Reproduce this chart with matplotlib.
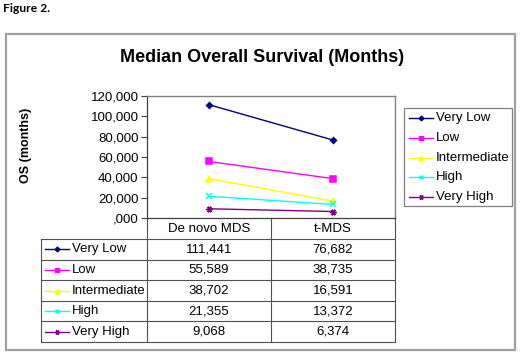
import matplotlib
matplotlib.use("Agg")
import matplotlib.pyplot as plt
from matplotlib.lines import Line2D
from matplotlib.patches import Rectangle

plt.rcParams['font.family'] = ['Liberation Sans', 'DejaVu Sans']

categories = ["De novo MDS", "t-MDS"]
series_names = ["Very Low", "Low", "Intermediate", "High", "Very High"]
very_low = [111.441, 76.682]
low = [55.589, 38.735]
intermediate = [38.702, 16.591]
high = [21.355, 13.372]
very_high = [9.068, 6.374]
series_values = [very_low, low, intermediate, high, very_high]
y_ticks = [0, 20, 40, 60, 80, 100, 120]

colors = ["#000080", "#FF00FF", "#FFFF00", "#00FFFF", "#800080"]
markers = ["D", "s", "^", "x", (6, 2, 90)]
msizes = [3.0, 3.8, 4.2, 4.2, 4.5]

def fmt(v):
    s = f"{v:.3f}".replace(".", ",")
    if s.startswith("0,"):
        s = s[1:]
    return s

W, H = 520, 356
fig = plt.figure(figsize=(W / 100, H / 100), dpi=100)

bg = fig.add_axes([0, 0, 1, 1])
bg.set_xlim(0, W)
bg.set_ylim(H, 0)
bg.axis("off")

def px_axes(l, t, r, b):
    return [l / W, (H - b) / H, (r - l) / W, (b - t) / H]

PL, PT, PR, PB = 147, 96, 395, 218
ax = fig.add_axes(px_axes(PL, PT, PR, PB))
ax.set_zorder(2)
ax.patch.set_alpha(0)

xs = [0.5, 1.5]
for name, vals, c, m, ms in zip(series_names, series_values, colors, markers, msizes):
    ax.plot(xs, vals, color=c, marker=m, markersize=ms, lw=1.0,
            markeredgewidth=1.1, label=name, clip_on=False)

ax.set_xlim(0, 2)
ax.set_ylim(0, 120)
ax.set_yticks(y_ticks)
ax.set_yticklabels([fmt(v) for v in y_ticks], fontsize=9.5)
ax.set_xticks([])
ax.tick_params(axis="y", length=4, width=0.8, color="#404040", pad=2)
for s in ["top", "right"]:
    ax.spines[s].set_color("#808080")
    ax.spines[s].set_linewidth(1.0)
ax.spines["left"].set_color("#404040")
ax.spines["bottom"].set_color("#404040")
ax.spines["left"].set_linewidth(0.9)
ax.spines["bottom"].set_linewidth(0.9)

# Outer chart border
bg.add_patch(Rectangle((6, 34), 509, 316, fill=False, edgecolor="#a0a0a0", lw=1.6))

# Figure label
bg.text(3, 9, "Figure 2.", fontsize=8.7, fontweight="bold", family=["Lato", "DejaVu Sans"],
        ha="left", va="center")

# Title
bg.text(262, 58, "Median Overall Survival (Months)", fontsize=13, fontweight="bold",
        ha="center", va="center")

# Y label
bg.text(26, 145, "OS (months)", fontsize=9, fontweight="bold", rotation=90,
        ha="center", va="center")

# Data table
TL = 41
row_edges = [239, 259.6, 280.2, 300.8, 321.4, 342]
col_x = [PL, (PL + PR) / 2, PR]
lc = "#505050"
lw = 0.8
for x in col_x:
    bg.plot([x, x], [PB, row_edges[-1]], color=lc, lw=lw)
bg.plot([TL, TL], [row_edges[0], row_edges[-1]], color=lc, lw=lw)
for y in row_edges:
    bg.plot([TL, PR], [y, y], color=lc, lw=lw)

centers = [(col_x[0] + col_x[1]) / 2, (col_x[1] + col_x[2]) / 2]
for cx, cat in zip(centers, categories):
    bg.text(cx, (PB + row_edges[0]) / 2, cat, fontsize=9.5, ha="center", va="center")

for i, (name, vals, c, m, ms) in enumerate(zip(series_names, series_values, colors, markers, msizes)):
    yc = (row_edges[i] + row_edges[i + 1]) / 2
    bg.add_line(Line2D([45, 69], [yc, yc], color=c, lw=1.0))
    bg.add_line(Line2D([57], [yc], color=c, marker=m, markersize=ms * 0.8, markeredgewidth=1.0))
    bg.text(72, yc, name, fontsize=9.5, ha="left", va="center")
    for cx, v in zip(centers, vals):
        bg.text(cx, yc, fmt(v), fontsize=9.5, ha="center", va="center")

# Legend
LL, LT, LR, LB = 404, 108, 512, 206
bg.add_patch(Rectangle((LL, LT), LR - LL, LB - LT, fill=False, edgecolor="#808080", lw=0.9))
leg_y = [118, 138, 158, 177, 197]
for name, c, m, ms, yc in zip(series_names, colors, markers, msizes, leg_y):
    bg.add_line(Line2D([409, 433], [yc, yc], color=c, lw=1.0))
    bg.add_line(Line2D([421], [yc], color=c, marker=m, markersize=ms * 0.8, markeredgewidth=1.0))
    bg.text(436, yc, name, fontsize=9.5, ha="left", va="center")

fig.savefig("out.png", dpi=100)
